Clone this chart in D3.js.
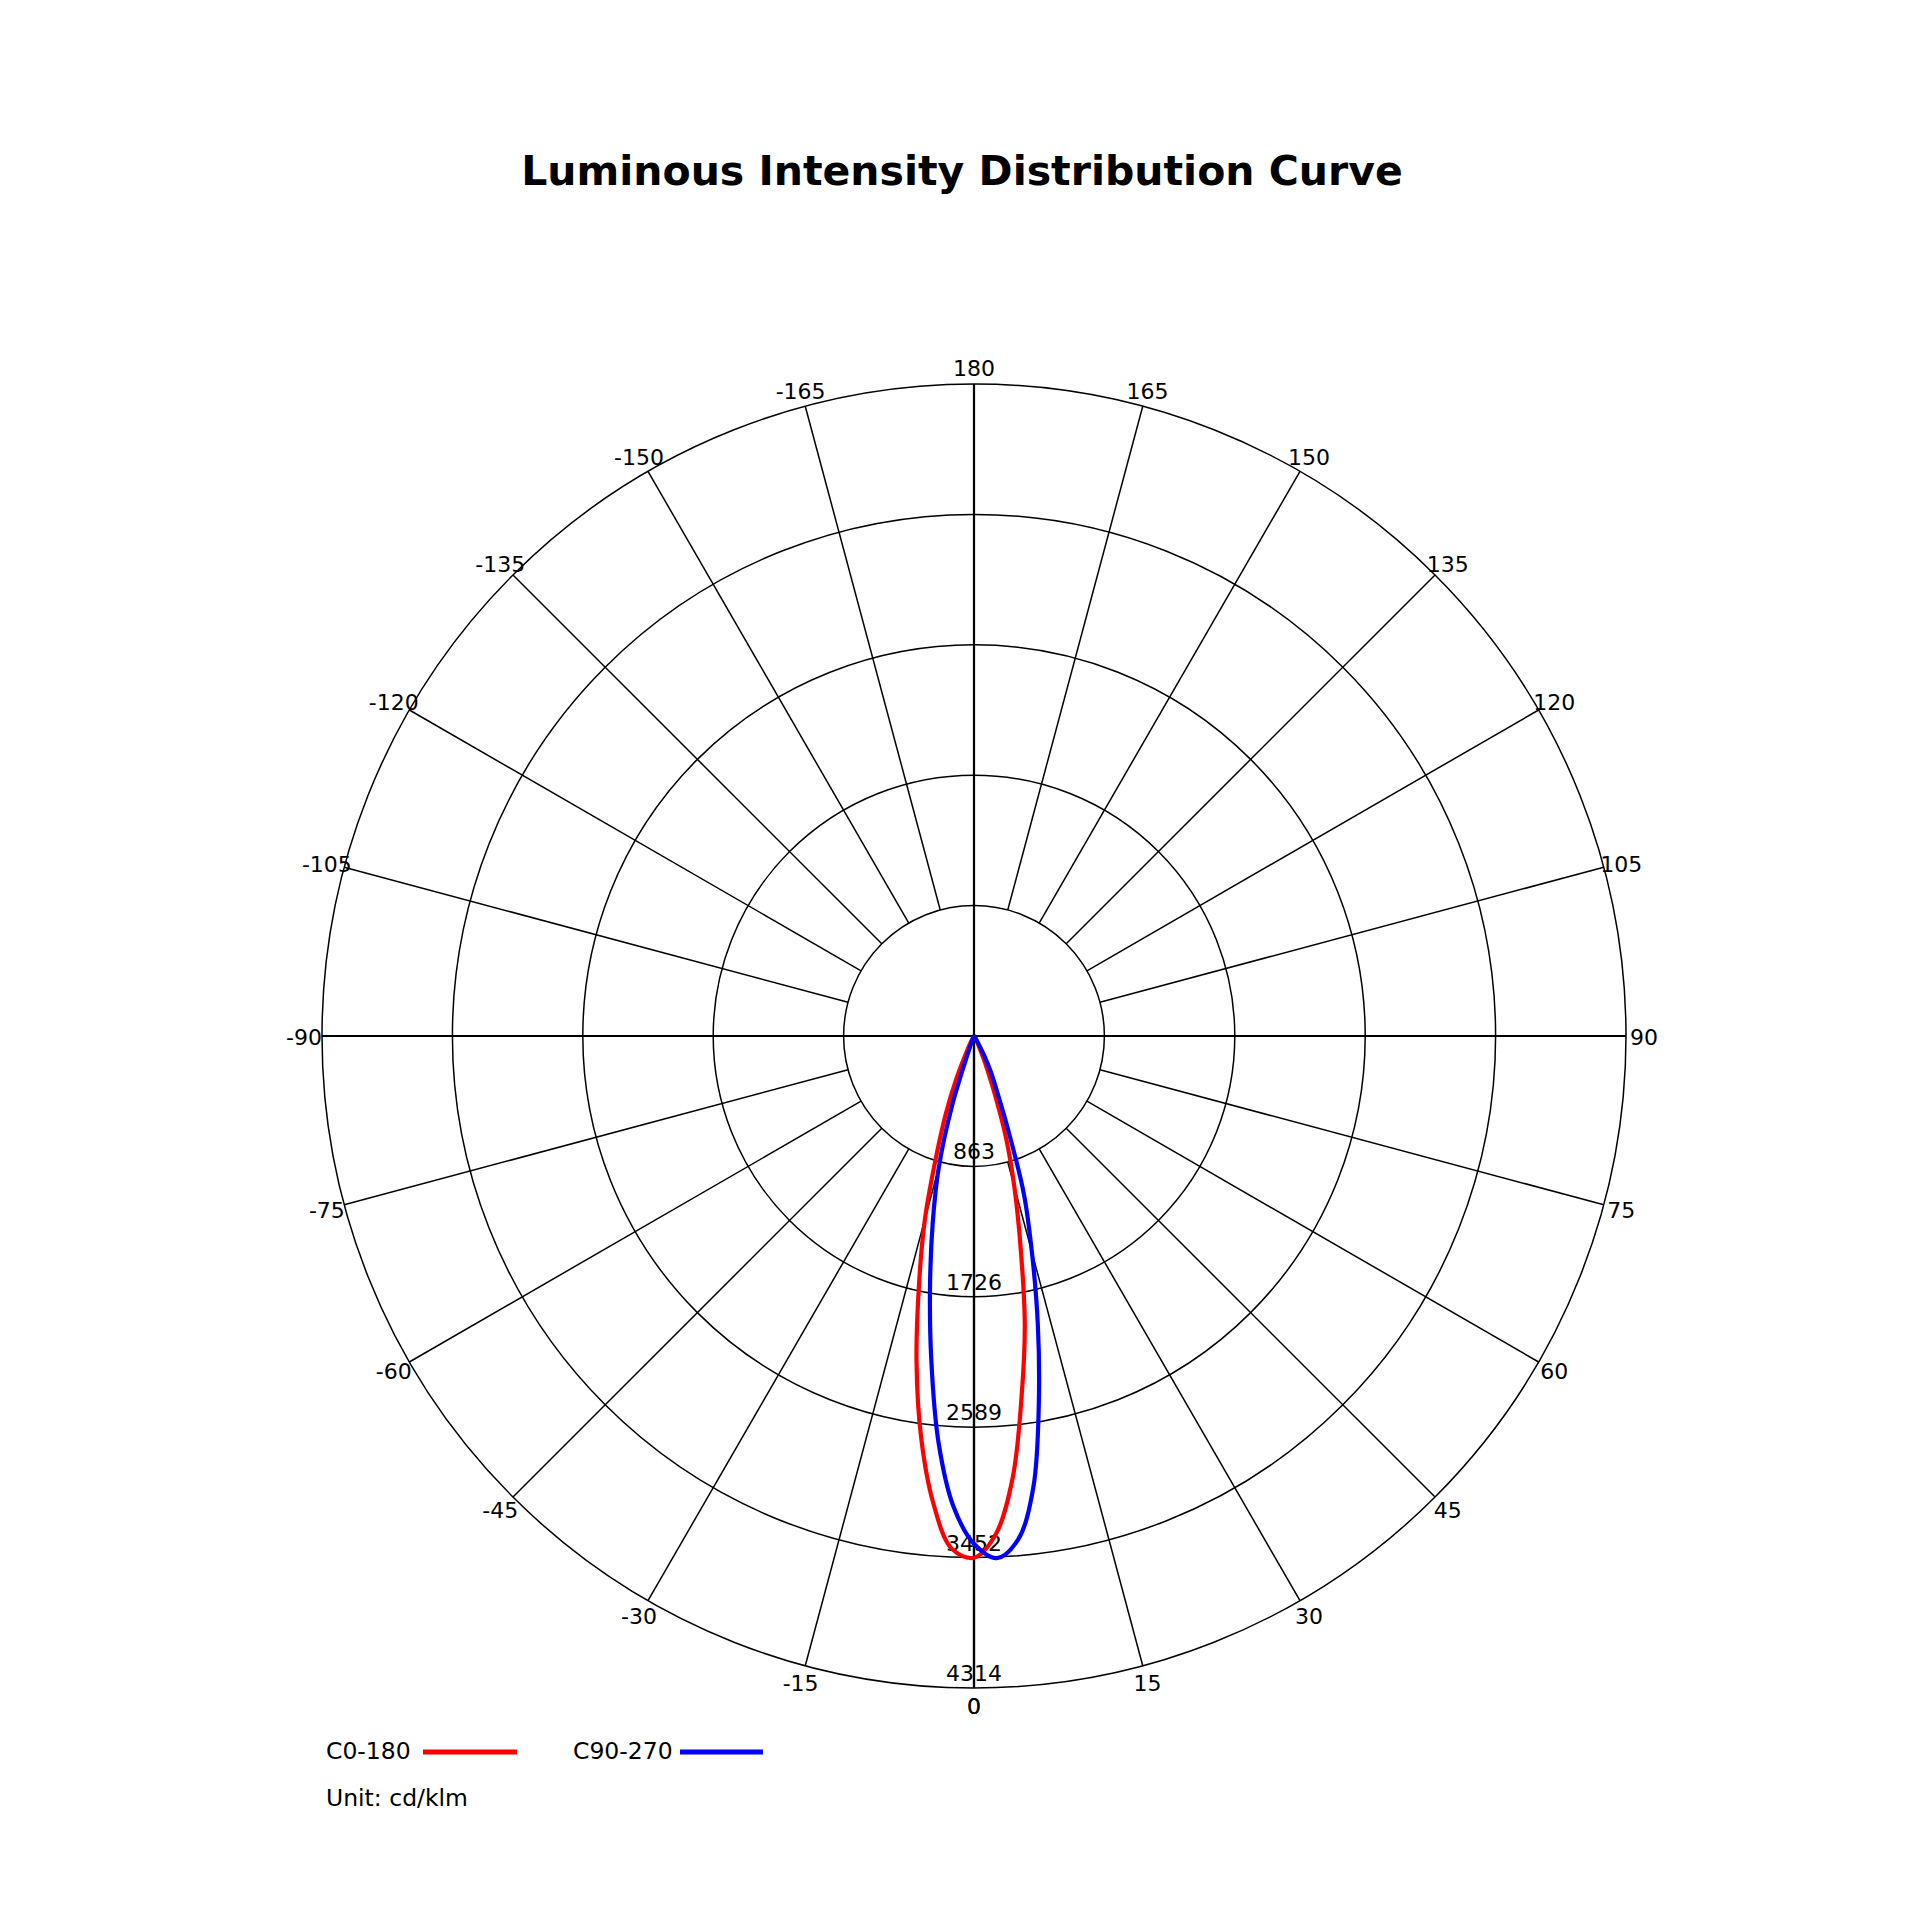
<!DOCTYPE html>
<html>
<head>
<meta charset="utf-8">
<script src="https://cdn.jsdelivr.net/npm/d3@7"></script>
<style>
  body { margin: 0; background: #fff; }
  text { font-family: "DejaVu Sans", Verdana, sans-serif; fill: #000; }
</style>
</head>
<body>
<div id="chart"></div>
<script>
// Data (cd/klm)
const gammaAngles = [-90, -80, -70, -60, -50, -45, -40, -35, -30, -27.5, -25, -22.5, -20, -17.5, -15, -12.5, -10, -7.5, -5, -2.5,
    0, 2.5, 5, 7.5, 10, 12.5, 15, 17.5, 20, 22.5, 25, 27.5, 30, 35, 40, 45, 50, 60, 70, 80, 90];

const c0_180 = [0, 0, 0, 0, 1, 2, 3, 5, 18, 50, 120, 300, 540, 825, 1255, 1680, 2190, 2680, 3100, 3395,
    3452, 3300, 2935, 2410, 1935, 1420, 1030, 700, 375, 190, 85, 35, 14, 5, 3, 2, 1, 0, 0, 0, 0];

const c90_270 = [0, 0, 0, 0, 0, 0, 0, 2, 3, 6, 10, 20, 70, 480, 900, 1260, 1675, 2164, 2697, 3116,
    3360, 3458, 3345, 3010, 2470, 1950, 1480, 1100, 660, 400, 270, 150, 60, 15, 5, 2, 1, 0, 0, 0, 0];

const seriesNames = ["C0-180", "C90-270"];
const seriesColors = ["#ff0000", "#0000ff"];
const maxValue = 4314;
const ringCount = 5;
const angleTicks = d3.range(-165, 181, 15);

// Space
const width = 1920, height = 1920;
const cx = 974, cy = 1036, R = 652;

const svg = d3.select("#chart")
    .append("svg")
    .attr("width", width)
    .attr("height", height);

svg.append("rect").attr("width", width).attr("height", height).attr("fill", "#fff");

svg.append("text")
    .attr("x", 962)
    .attr("y", 185)
    .attr("text-anchor", "middle")
    .style("font-size", "41px")
    .style("font-weight", "bold")
    .text("Luminous Intensity Distribution Curve");

const g = svg.append("g").attr("transform", `translate(${cx},${cy})`);

const r = d3.scaleLinear().domain([0, maxValue]).range([0, R]);
const rad = a => a * Math.PI / 180;
// 0 deg points down, positive angles go to the right
const px = (a, v) => r(v) * Math.sin(rad(a));
const py = (a, v) => r(v) * Math.cos(rad(a));

const ringValues = d3.range(1, ringCount + 1).map(i => maxValue * i / ringCount);

// rings
g.selectAll(".ring")
    .data(ringValues)
    .join("circle")
    .attr("class", "ring")
    .attr("r", d => r(d))
    .attr("fill", "none")
    .attr("stroke", "#000")
    .attr("stroke-width", 1.5);

// spokes
g.selectAll(".spoke")
    .data(angleTicks)
    .join("line")
    .attr("class", "spoke")
    .attr("x1", d => d % 90 === 0 ? 0 : px(d, ringValues[0]))
    .attr("y1", d => d % 90 === 0 ? 0 : py(d, ringValues[0]))
    .attr("x2", d => px(d, maxValue))
    .attr("y2", d => py(d, maxValue))
    .attr("stroke", "#000")
    .attr("stroke-width", d => d % 90 === 0 ? 2.2 : 1.5);

// bottom half of the vertical axis
g.append("line")
    .attr("x1", 0).attr("y1", 0)
    .attr("x2", px(0, maxValue)).attr("y2", py(0, maxValue))
    .attr("stroke", "#000")
    .attr("stroke-width", 2.2);

// angle labels
g.selectAll(".angle-label")
    .data(angleTicks.concat([0]))
    .join("text")
    .attr("class", "angle-label")
    .attr("x", d => (R + 18) * Math.sin(rad(d)))
    .attr("y", d => (R + 17) * Math.cos(rad(d)))
    .attr("dy", "0.4em")
    .attr("text-anchor", "middle")
    .style("font-size", "22px")
    .text(d => d);

// ring labels
g.selectAll(".ring-label")
    .data(ringValues)
    .join("text")
    .attr("class", "ring-label")
    .attr("x", 0)
    .attr("y", d => r(d) - 7)
    .attr("text-anchor", "middle")
    .style("font-size", "22px")
    .text(d => Math.ceil(d));

// curves
const line = d3.line()
    .curve(d3.curveCatmullRom)
    .x(p => px(p[0], p[1]))
    .y(p => py(p[0], p[1]));

const series = [c0_180, c90_270].map((vals, i) => ({
    name: seriesNames[i],
    color: seriesColors[i],
    points: gammaAngles.map((a, j) => [a, vals[j]])
}));

g.selectAll(".curve")
    .data(series)
    .join("path")
    .attr("class", "curve")
    .attr("fill", "none")
    .attr("stroke", d => d.color)
    .attr("stroke-width", 4.2)
    .attr("stroke-linejoin", "round")
    .attr("d", d => line(d.points));

// legend
const legendItems = [
    { x: 326, lineX1: 423, lineX2: 517 },
    { x: 573, lineX1: 680, lineX2: 763 }
];

const legend = svg.append("g");

legend.selectAll("text")
    .data(series)
    .join("text")
    .attr("x", (d, i) => legendItems[i].x)
    .attr("y", 1759)
    .style("font-size", "23.5px")
    .text(d => d.name);

legend.selectAll("line")
    .data(series)
    .join("line")
    .attr("x1", (d, i) => legendItems[i].lineX1)
    .attr("x2", (d, i) => legendItems[i].lineX2)
    .attr("y1", 1752)
    .attr("y2", 1752)
    .attr("stroke", d => d.color)
    .attr("stroke-width", 5);

svg.append("text")
    .attr("x", 326)
    .attr("y", 1806)
    .style("font-size", "23.5px")
    .text("Unit: cd/klm");
</script>
</body>
</html>
